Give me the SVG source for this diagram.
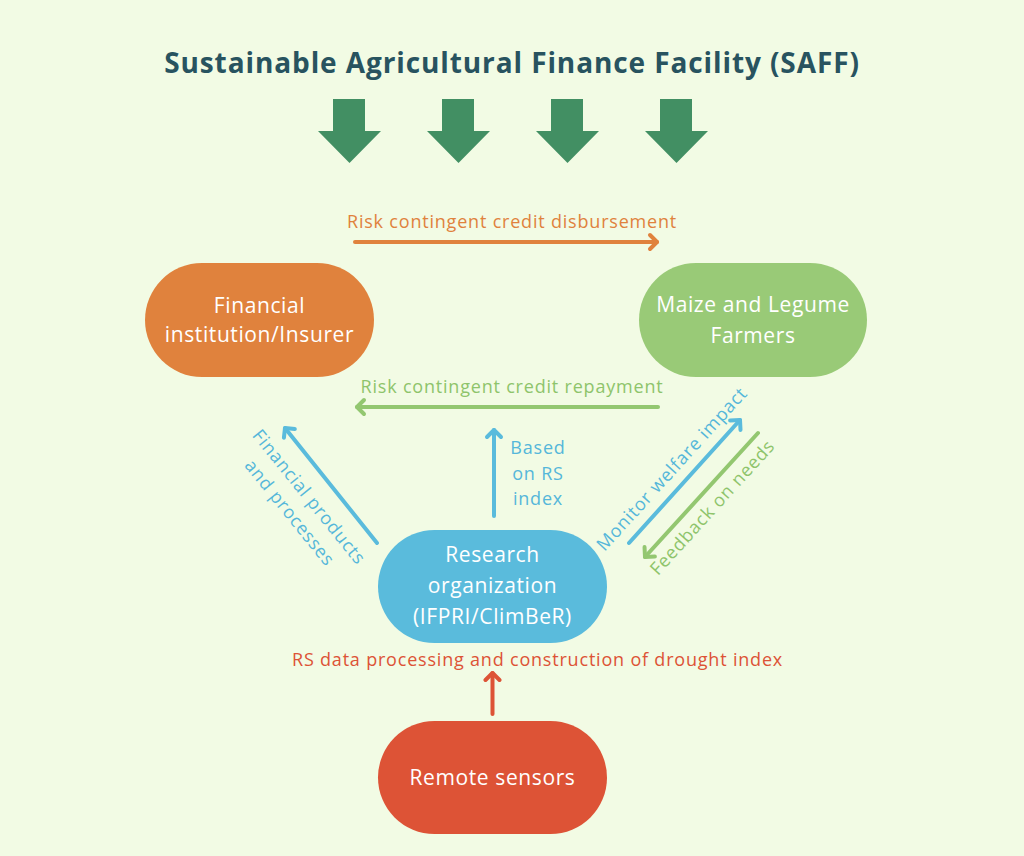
<svg xmlns="http://www.w3.org/2000/svg" width="1024" height="856" viewBox="0 0 1024 856">
<style>
.lbl{font-family:"Open Sans","Liberation Sans",sans-serif;font-size:18px;text-anchor:middle;letter-spacing:0.8px}
.nt{font-family:"Open Sans","Liberation Sans",sans-serif;font-size:21px;fill:#ffffff;text-anchor:middle;letter-spacing:0.6px}
.ln{fill:none;stroke-width:4;stroke-linecap:round}
.big{fill:#428F63}
</style>
<defs>
<marker id="mO" markerUnits="userSpaceOnUse" markerWidth="20" markerHeight="20" viewBox="-10 -10 20 20" refX="0" refY="0" orient="auto"><path d="M-7,-7 L0,0 L-7,7" fill="none" stroke="#E0823D" stroke-width="4" stroke-linecap="round" stroke-linejoin="round"/></marker>
<marker id="mG" markerUnits="userSpaceOnUse" markerWidth="20" markerHeight="20" viewBox="-10 -10 20 20" refX="0" refY="0" orient="auto"><path d="M-7,-7 L0,0 L-7,7" fill="none" stroke="#93C770" stroke-width="4" stroke-linecap="round" stroke-linejoin="round"/></marker>
<marker id="mB" markerUnits="userSpaceOnUse" markerWidth="20" markerHeight="20" viewBox="-10 -10 20 20" refX="0" refY="0" orient="auto"><path d="M-7,-7 L0,0 L-7,7" fill="none" stroke="#5ABBDC" stroke-width="4" stroke-linecap="round" stroke-linejoin="round"/></marker>
<marker id="mR" markerUnits="userSpaceOnUse" markerWidth="20" markerHeight="20" viewBox="-10 -10 20 20" refX="0" refY="0" orient="auto"><path d="M-7,-7 L0,0 L-7,7" fill="none" stroke="#DD5336" stroke-width="4" stroke-linecap="round" stroke-linejoin="round"/></marker>
</defs>
<rect width="1024" height="856" fill="#F2FBE4"/>
<g id="title">
<text x="512" y="73" font-family="'Open Sans','Liberation Sans',sans-serif" font-size="28" font-weight="bold" fill="#28535F" text-anchor="middle" letter-spacing="0.9">Sustainable Agricultural Finance Facility (SAFF)</text>
</g>
<g id="big-arrows">
<path class="big" d="M333,99 H365 V131 H381 L349.5,163 L318,131 H333 Z"/>
<path class="big" d="M442,99 H474 V131 H490 L458.5,163 L427,131 H442 Z"/>
<path class="big" d="M551,99 H583 V131 H599 L567.5,163 L536,131 H551 Z"/>
<path class="big" d="M660,99 H692 V131 H708 L676.5,163 L645,131 H660 Z"/>
</g>
<g id="financial">
<rect x="145" y="263" width="229" height="114" rx="57" fill="#E0823D"/>
<text class="nt" x="259.5" y="313">Financial</text>
<text class="nt" x="259.5" y="342">institution/Insurer</text>
</g>
<g id="farmers">
<rect x="639" y="263" width="228" height="114" rx="57" fill="#99CA77"/>
<text class="nt" x="753" y="312" letter-spacing="1.2">Maize and Legume</text>
<text class="nt" x="753" y="343" letter-spacing="1.2">Farmers</text>
</g>
<g id="research">
<rect x="378" y="530" width="229" height="113" rx="56.5" fill="#5ABBDC"/>
<text class="nt" x="492.5" y="562">Research</text>
<text class="nt" x="492.5" y="593">organization</text>
<text class="nt" x="492.5" y="624" letter-spacing="1.1">(IFPRI/ClimBeR)</text>
</g>
<g id="sensors">
<rect x="378" y="721" width="229" height="113" rx="56.5" fill="#DD5336"/>
<text class="nt" x="492.5" y="785">Remote sensors</text>
</g>
<g id="connectors">
<line class="ln" x1="355" y1="242" x2="657" y2="242" stroke="#E0823D" marker-end="url(#mO)"/>
<text class="lbl" x="512" y="228" fill="#E0823D" letter-spacing="1.2">Risk contingent credit disbursement</text>
<line class="ln" x1="658" y1="407" x2="357" y2="407" stroke="#93C770" marker-end="url(#mG)"/>
<text class="lbl" x="512" y="393" fill="#8EC46B" letter-spacing="1.1">Risk contingent credit repayment</text>
<line class="ln" x1="494" y1="516" x2="494" y2="430" stroke="#5ABBDC" marker-end="url(#mB)"/>
<text class="lbl" fill="#55B7DA"><tspan x="538" y="454">Based</tspan><tspan x="538" y="480">on RS</tspan><tspan x="538" y="505">index</tspan></text>
<line class="ln" x1="377" y1="543" x2="285" y2="428" stroke="#5ABBDC" marker-end="url(#mB)"/>
<text class="lbl" fill="#55B7DA" transform="translate(309,497) rotate(51)" letter-spacing="1"><tspan x="0" y="6">Financial products</tspan><tspan x="0" y="31">and processes</tspan></text>
<line class="ln" x1="629" y1="543" x2="740" y2="420" stroke="#5ABBDC" marker-end="url(#mB)"/>
<text class="lbl" fill="#55B7DA" transform="translate(672,469) rotate(-47.7)" x="0" y="6" letter-spacing="0.8">Monitor welfare impact</text>
<line class="ln" x1="758" y1="433" x2="645" y2="557" stroke="#93C770" marker-end="url(#mG)"/>
<text class="lbl" fill="#8EC46B" transform="translate(712.5,507.5) rotate(-47.7)" x="0" y="6" letter-spacing="1">Feedback on needs</text>
<line class="ln" x1="492.5" y1="714" x2="492.5" y2="673" stroke="#DD5336" marker-end="url(#mR)"/>
<text class="lbl" x="537.5" y="666" fill="#DD5336" letter-spacing="0.4">RS data processing and construction of drought index</text>
</g>
</svg>
